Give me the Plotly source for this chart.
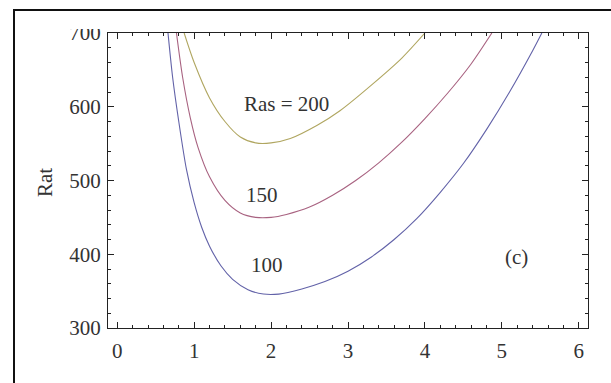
import plotly.graph_objects as go

# Wavenumber a and critical Rat for three values of Ras
a_100 = [0.66, 0.72, 0.80, 0.90, 1.00, 1.10, 1.20, 1.35, 1.50, 1.70, 1.90, 2.10, 2.40,
         2.70, 3.00, 3.30, 3.60, 3.90, 4.20, 4.50, 4.80, 5.10, 5.40, 5.52]
rat_100 = [700, 640, 580, 515, 470, 436, 411, 384, 366, 352, 346, 346, 353,
           363, 377, 396, 420, 449, 484, 523, 569, 620, 676, 700]

a_150 = [0.77, 0.85, 0.95, 1.05, 1.20, 1.40, 1.60, 1.80, 2.00, 2.20, 2.50, 2.80,
         3.10, 3.40, 3.70, 4.00, 4.30, 4.60, 4.87]
rat_150 = [700, 640, 585, 545, 505, 473, 456, 450, 450, 454, 464, 480,
           500, 524, 552, 584, 619, 658, 700]

a_200 = [0.87, 1.00, 1.20, 1.40, 1.60, 1.80, 2.00, 2.25, 2.60, 2.90, 3.30, 3.70, 4.00]
rat_200 = [700, 660, 612, 580, 559, 551, 551, 557, 575, 595, 629, 666, 700]

x_ticks = [0, 1, 2, 3, 4, 5, 6]
y_ticks = [300, 400, 500, 600, 700]

FONT = "Liberation Serif, Times New Roman, serif"
FS = 21

fig = go.Figure()
for xs, ys, col in [
    (a_100, rat_100, "rgb(98,98,168)"),
    (a_150, rat_150, "rgb(168,98,128)"),
    (a_200, rat_200, "rgb(176,166,96)"),
]:
    fig.add_trace(go.Scatter(x=xs, y=ys, mode="lines",
                             line=dict(color=col, width=1.1, shape="spline", smoothing=0.8),
                             showlegend=False, hoverinfo="skip"))

W, H = 611, 383
L, R, T, B = 108, 588, 33, 328


def px(x):
    return (x - L) / (R - L)


def py(y):
    return (B - y) / (B - T)


axis_common = dict(
    showgrid=False, zeroline=False, showline=True, linecolor="#222", linewidth=1,
    mirror="ticks", ticks="inside", ticklen=6, tickcolor="#222", tickwidth=1,
    tickfont=dict(family=FONT, size=FS, color="#333"),
)

fig.update_xaxes(range=[-0.12, 6.12], tickvals=x_ticks,
                 minor=dict(dtick=0.2, ticks="inside", ticklen=3, tickcolor="#222"),
                 ticklabelstandoff=4, **axis_common)
fig.update_yaxes(range=[300, 700], tickvals=y_ticks,
                 minor=dict(dtick=20, ticks="inside", ticklen=3, tickcolor="#222"),
                 ticklabelstandoff=2, **axis_common)

annotations = [
    dict(x=px(286), y=py(104), text="Ras = 200"),
    dict(x=px(262), y=py(195), text="150"),
    dict(x=px(267), y=py(265), text="100"),
    dict(x=px(516), y=py(257), text="(c)"),
    dict(x=px(45), y=py(183), text="Rat", textangle=-90),
]
for an in annotations:
    fig.add_annotation(xref="paper", yref="paper", xanchor="center", yanchor="middle",
                       showarrow=False, font=dict(family=FONT, size=FS, color="#333"), **an)

# outer frame, cut off on the right and bottom
fig.add_shape(type="rect", xref="paper", yref="paper",
              x0=px(14), y0=py(420), x1=px(640), y1=py(10),
              line=dict(color="#111", width=2), fillcolor="rgba(0,0,0,0)", layer="above")
# clip the top of the uppermost tick label
fig.add_shape(type="rect", xref="paper", yref="paper",
              x0=px(55), y0=py(29), x1=px(106), y1=py(12),
              line=dict(width=0), fillcolor="white", layer="above")

fig.update_layout(width=W, height=H, margin=dict(l=L, r=W - R, t=T, b=H - B),
                  paper_bgcolor="white", plot_bgcolor="white")

fig.write_html("out.html")
